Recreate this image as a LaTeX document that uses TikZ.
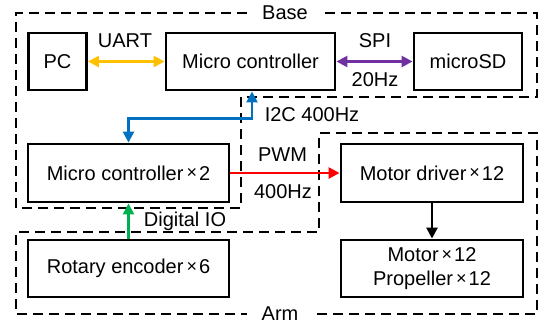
\documentclass[tikz,border=0pt]{standalone}
\usepackage{fontspec}
\setmainfont{Liberation Sans}
\usetikzlibrary{arrows.meta}
\definecolor{corange}{HTML}{FFC000}
\definecolor{cpurple}{HTML}{7030A0}
\definecolor{cblue}{HTML}{0070C0}
\definecolor{cred}{HTML}{FF0000}
\definecolor{cgreen}{HTML}{00B050}
\newcommand{\tms}{\hspace{3pt}\raisebox{1.2pt}{\fontsize{18}{20}\selectfont ×}\hspace{2pt}}
\begin{document}
\begin{tikzpicture}[x=1pt,y=-1pt,
  font=\fontsize{20}{24}\selectfont,
  box/.style={draw, line width=2.9pt, inner sep=0pt, align=center},
  region/.style={line width=1.6pt, dash pattern=on 10pt off 6pt},
  conn/.style={line width=2.6pt, -{Triangle[length=11pt,width=11pt]}},
  biconn/.style={line width=2.6pt, {Triangle[length=11pt,width=11pt]}-{Triangle[length=11pt,width=11pt]}},
  lbl/.style={inner sep=0pt}]
\useasboundingbox (0,0) rectangle (539,325);
% regions
\draw[region] (325,13) -- (537,13) -- (537,97) -- (241,97) -- (241,208) -- (16,208) -- (16,13) -- (250,13);
\draw[region] (317,314) -- (537,314) -- (537,133) -- (319,133) -- (319,232) -- (16,232) -- (16,314) -- (247,314);
\node[lbl] (base) at (285,13) {Base};
\node[lbl] (arm) at (280,314) {Arm};
% boxes
\node[box, minimum width=58pt, minimum height=57pt] (pc) at (57.5,61.5) {PC};
\node[box, minimum width=169pt, minimum height=57pt] (mc) at (250.5,61.5) {Micro controller};
\node[box, minimum width=108pt, minimum height=57pt] (sd) at (468,61.5) {microSD};
\node[box, minimum width=201pt, minimum height=58pt] (mc2) at (128.5,173) {Micro controller\tms 2};
\node[box, minimum width=201pt, minimum height=57pt] (rot) at (128.5,268.5) {Rotary encoder\tms 6};
\node[box, minimum width=182pt, minimum height=58pt] (md) at (432,173) {Motor driver\tms 12};
\node[box, minimum width=182pt, minimum height=57pt] (mot) at (432,268.5) {Motor\tms 12\\Propeller\tms 12};
% connectors
\draw[biconn, corange] (pc.east) -- (mc.west);
\draw[biconn, cpurple] (mc.east) -- (sd.west);
\draw[biconn, cblue] ([xshift=1.5pt]mc.south) -- ++(0,27) -| (mc2.north);
\draw[conn, cred] (mc2.east) -- (md.west);
\draw[conn, cgreen] (rot.north) -- (mc2.south);
\draw[conn, black] (md.south) -- (mot.north);
% labels
\node[lbl] (uart) at (125,41) {UART};
\node[lbl] (spi) at (375,41) {SPI};
\node[lbl] (hz20) at (375,80) {20Hz};
\node[lbl] (i2c) at (312,115) {I2C 400Hz};
\node[lbl] (pwm) at (282.5,155) {PWM};
\node[lbl] (hz400) at (283,192) {400Hz};
\node[lbl] (dio) at (185,221) {Digital IO};
\end{tikzpicture}
\end{document}
